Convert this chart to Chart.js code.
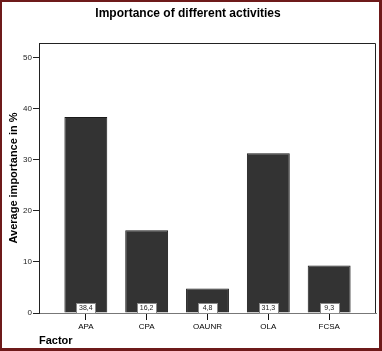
<!DOCTYPE html>
<html>
<head>
<meta charset="utf-8">
<script src="https://cdn.jsdelivr.net/npm/chart.js@4"></script>
<style>
  html, body { margin: 0; padding: 0; background: #fff; }
  #wrap { width: 382px; height: 351px; }
</style>
</head>
<body>
<div id="wrap"><canvas id="myChart" width="382" height="351"></canvas></div>
<script>
        // Data
        const categories = ['APA', 'CPA', 'OAUNR', 'OLA', 'FCSA'];
        const importance = [38.4, 16.2, 4.8, 31.3, 9.3];
        const yTicks = [0, 10, 20, 30, 40, 50];

        // frame, plot box and value boxes
        const spssPlugin = {
            id: 'spss',
            beforeDraw(chart) {
                const ctx = chart.ctx;
                ctx.save();
                ctx.fillStyle = '#ffffff';
                ctx.fillRect(0, 0, chart.width, chart.height);
                ctx.restore();
            },
            afterDatasetsDraw(chart) {
                const ctx = chart.ctx;
                const area = chart.chartArea;
                ctx.save();
                // top and right edges of the plot box
                ctx.strokeStyle = '#222';
                ctx.lineWidth = 1;
                ctx.beginPath();
                ctx.moveTo(area.left, area.top + 0.5);
                ctx.lineTo(area.right - 0.5, area.top + 0.5);
                ctx.lineTo(area.right - 0.5, area.bottom);
                ctx.stroke();

                // value labels sitting on the baseline
                const meta = chart.getDatasetMeta(0);
                ctx.font = '7px "Liberation Sans", Arial, sans-serif';
                ctx.textAlign = 'center';
                ctx.textBaseline = 'middle';
                meta.data.forEach((bar, i) => {
                    const txt = importance[i].toFixed(1).replace('.', ',');
                    const w = 19, h = 10;
                    const x = Math.round(bar.x - w / 2) + 0.5;
                    const y = area.bottom - h;
                    ctx.fillStyle = '#fff';
                    ctx.fillRect(x, y, w, h);
                    ctx.strokeStyle = '#888';
                    ctx.strokeRect(x, y + 0.5, w, h);
                    ctx.fillStyle = '#222';
                    ctx.fillText(txt, bar.x, y + h / 2 + 0.5);
                });

                // frame
                ctx.fillStyle = '#6e1a1a';
                ctx.fillRect(0, 0, chart.width, 2);
                ctx.fillRect(0, 0, 2, chart.height);
                ctx.fillRect(chart.width - 3, 0, 3, chart.height);
                ctx.fillRect(0, chart.height - 3, chart.width, 3);
                ctx.restore();
            }
        };

        const data = {
            datasets: [{
                label: 'Average importance',
                data: importance.map((v, i) => ({ x: i, y: v })),
                backgroundColor: '#333333',
                borderColor: '#1a1a1a',
                borderWidth: 1,
                categoryPercentage: 1,
                barPercentage: 0.705
            }]
        };

        const config = {
            type: 'bar',
            data: data,
            plugins: [spssPlugin],
            options: {
                responsive: false,
                animation: false,
                layout: { padding: { left: 0, right: 6, top: 0, bottom: 0 } },
                plugins: {
                    legend: { display: false },
                    tooltip: { enabled: false },
                    title: {
                        display: true,
                        text: 'Importance of different activities',
                        color: '#000',
                        font: { family: '"Liberation Sans", Arial, sans-serif', size: 12, weight: 'bold', lineHeight: 1.2 },
                        padding: { top: 6, bottom: 22.6 }
                    }
                },
                scales: {
                    x: {
                        type: 'linear',
                        min: -0.77,
                        max: 4.77,
                        offset: false,
                        afterBuildTicks: (scale) => {
                            scale.ticks = categories.map((c, i) => ({ value: i }));
                        },
                        afterFit: (scale) => { scale.height = 38; },
                        ticks: {
                            callback: (v) => categories[v],
                            color: '#000',
                            font: { family: '"Liberation Sans", Arial, sans-serif', size: 8 },
                            padding: 2,
                            maxRotation: 0,
                            autoSkip: false
                        },
                        grid: { offset: false, drawOnChartArea: false, drawTicks: true, tickLength: 7, color: '#111' },
                        border: { color: '#777', width: 1 },
                        title: {
                            display: true,
                            text: 'Factor',
                            align: 'start',
                            color: '#000',
                            font: { family: '"Liberation Sans", Arial, sans-serif', size: 11, weight: 'bold' },
                            padding: { top: 0, bottom: 3 }
                        }
                    },
                    y: {
                        min: 0,
                        max: 52.9,
                        afterBuildTicks: (scale) => {
                            scale.ticks = yTicks.map(v => ({ value: v }));
                        },
                        afterFit: (scale) => { scale.width = 39; },
                        ticks: {
                            color: '#222',
                            font: { family: '"Liberation Sans", Arial, sans-serif', size: 8 },
                            padding: 1
                        },
                        grid: { drawOnChartArea: false, drawTicks: true, tickLength: 6, color: '#222' },
                        border: { color: '#222', width: 1 },
                        title: {
                            display: true,
                            text: 'Average importance in %',
                            color: '#000',
                            font: { family: '"Liberation Sans", Arial, sans-serif', size: 11, weight: 'bold' },
                            padding: { top: 7.5, bottom: 0 }
                        }
                    }
                }
            }
        };

        // Render the chart
        var myChart = new Chart(
            document.getElementById('myChart'),
            config
        );
</script>
</body>
</html>
